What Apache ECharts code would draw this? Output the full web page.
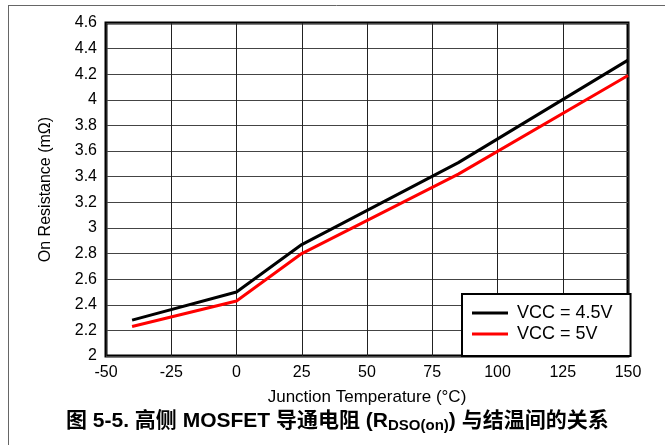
<!DOCTYPE html>
<html>
<head>
<meta charset="utf-8">
<script src="https://cdn.jsdelivr.net/npm/echarts@6/dist/echarts.min.js"></script>
<style>
  html, body { margin: 0; padding: 0; background: #fff; }
  #chart { width: 665px; height: 445px; }
</style>
</head>
<body>
<div id="chart"></div>
<script>
// Junction temperature (°C) and on-resistance (mΩ) for two supply voltages
const temperatures = [-40, 0, 25, 85, 150];
const rdsVcc45 = [2.28, 2.50, 2.87, 3.51, 4.31];
const rdsVcc5 = [2.23, 2.43, 2.80, 3.42, 4.19];
const seriesNames = ['VCC = 4.5V', 'VCC = 5V'];
const xTicks = { min: -50, max: 150, step: 25 };
const yTicks = { min: 2, max: 4.6, step: 0.2 };

const latin = '"Liberation Sans", Arial, sans-serif';
const cjk = '"Liberation Sans", "Noto Sans CJK SC", sans-serif';

const pair = (xs, ys) => xs.map((x, i) => [x, ys[i]]);

const chart = echarts.init(document.getElementById('chart'), null, { renderer: 'canvas' });

chart.setOption({
  animation: false,
  backgroundColor: '#fff',
  grid: {
    left: 106, right: 37, top: 23, bottom: 89,
    show: true, borderColor: '#000', borderWidth: 3, backgroundColor: 'transparent'
  },
  xAxis: {
    type: 'value',
    min: xTicks.min, max: xTicks.max, interval: xTicks.step,
    name: 'Junction Temperature (°C)',
    nameLocation: 'middle', nameGap: 33,
    nameTextStyle: { fontFamily: latin, fontSize: 17, color: '#000' },
    axisLine: { show: false },
    axisTick: { show: false },
    axisLabel: { fontFamily: latin, fontSize: 16, color: '#000', margin: 9 },
    splitLine: { show: true, lineStyle: { color: '#222', width: 1 } }
  },
  yAxis: {
    type: 'value',
    min: yTicks.min, max: yTicks.max, interval: yTicks.step,
    name: 'On Resistance (mΩ)',
    nameLocation: 'middle', nameGap: 52,
    nameTextStyle: { fontFamily: latin, fontSize: 16, color: '#000' },
    axisLine: { show: false },
    axisTick: { show: false },
    axisLabel: {
      fontFamily: latin, fontSize: 16, color: '#000', margin: 9,
      formatter: v => String(+v.toFixed(1))
    },
    splitLine: { show: true, lineStyle: { color: '#444', width: 1 } }
  },
  legend: {
    orient: 'vertical',
    left: 462, top: 294,
    padding: [10, 18, 13, 10],
    backgroundColor: '#fff',
    borderColor: '#000', borderWidth: 2,
    itemWidth: 36, itemHeight: 3, itemGap: 3,
    icon: 'rect',
    textStyle: { fontFamily: latin, fontSize: 18, color: '#000', padding: [0, 0, 0, 4] },
    data: seriesNames
  },
  series: [
    {
      name: seriesNames[0], type: 'line', data: pair(temperatures, rdsVcc45),
      showSymbol: false, lineStyle: { color: '#000', width: 3 }, itemStyle: { color: '#000' }, z: 3
    },
    {
      name: seriesNames[1], type: 'line', data: pair(temperatures, rdsVcc5),
      showSymbol: false, lineStyle: { color: '#ff0000', width: 3 }, itemStyle: { color: '#ff0000' }, z: 4
    }
  ],
  graphic: [
    // page frame: top rule and left rule
    { type: 'line', shape: { x1: 8, y1: 5.5, x2: 665, y2: 5.5 }, style: { stroke: '#666', lineWidth: 1 } },
    { type: 'line', shape: { x1: 8.5, y1: 5, x2: 8.5, y2: 445 }, style: { stroke: '#666', lineWidth: 1 } },
    {
      type: 'text', left: 66, top: 411,
      style: {
        text: '图 5-5. 高侧 MOSFET 导通电阻 (R{sub|DSO(on)}) 与结温间的关系',
        font: 'bold 21px ' + cjk, fill: '#000',
        rich: {
          sub: { font: 'bold 15px ' + latin, fill: '#000', verticalAlign: 'bottom', padding: [9, 0, 0, 0] }
        }
      }
    }
  ]
});
</script>
</body>
</html>
